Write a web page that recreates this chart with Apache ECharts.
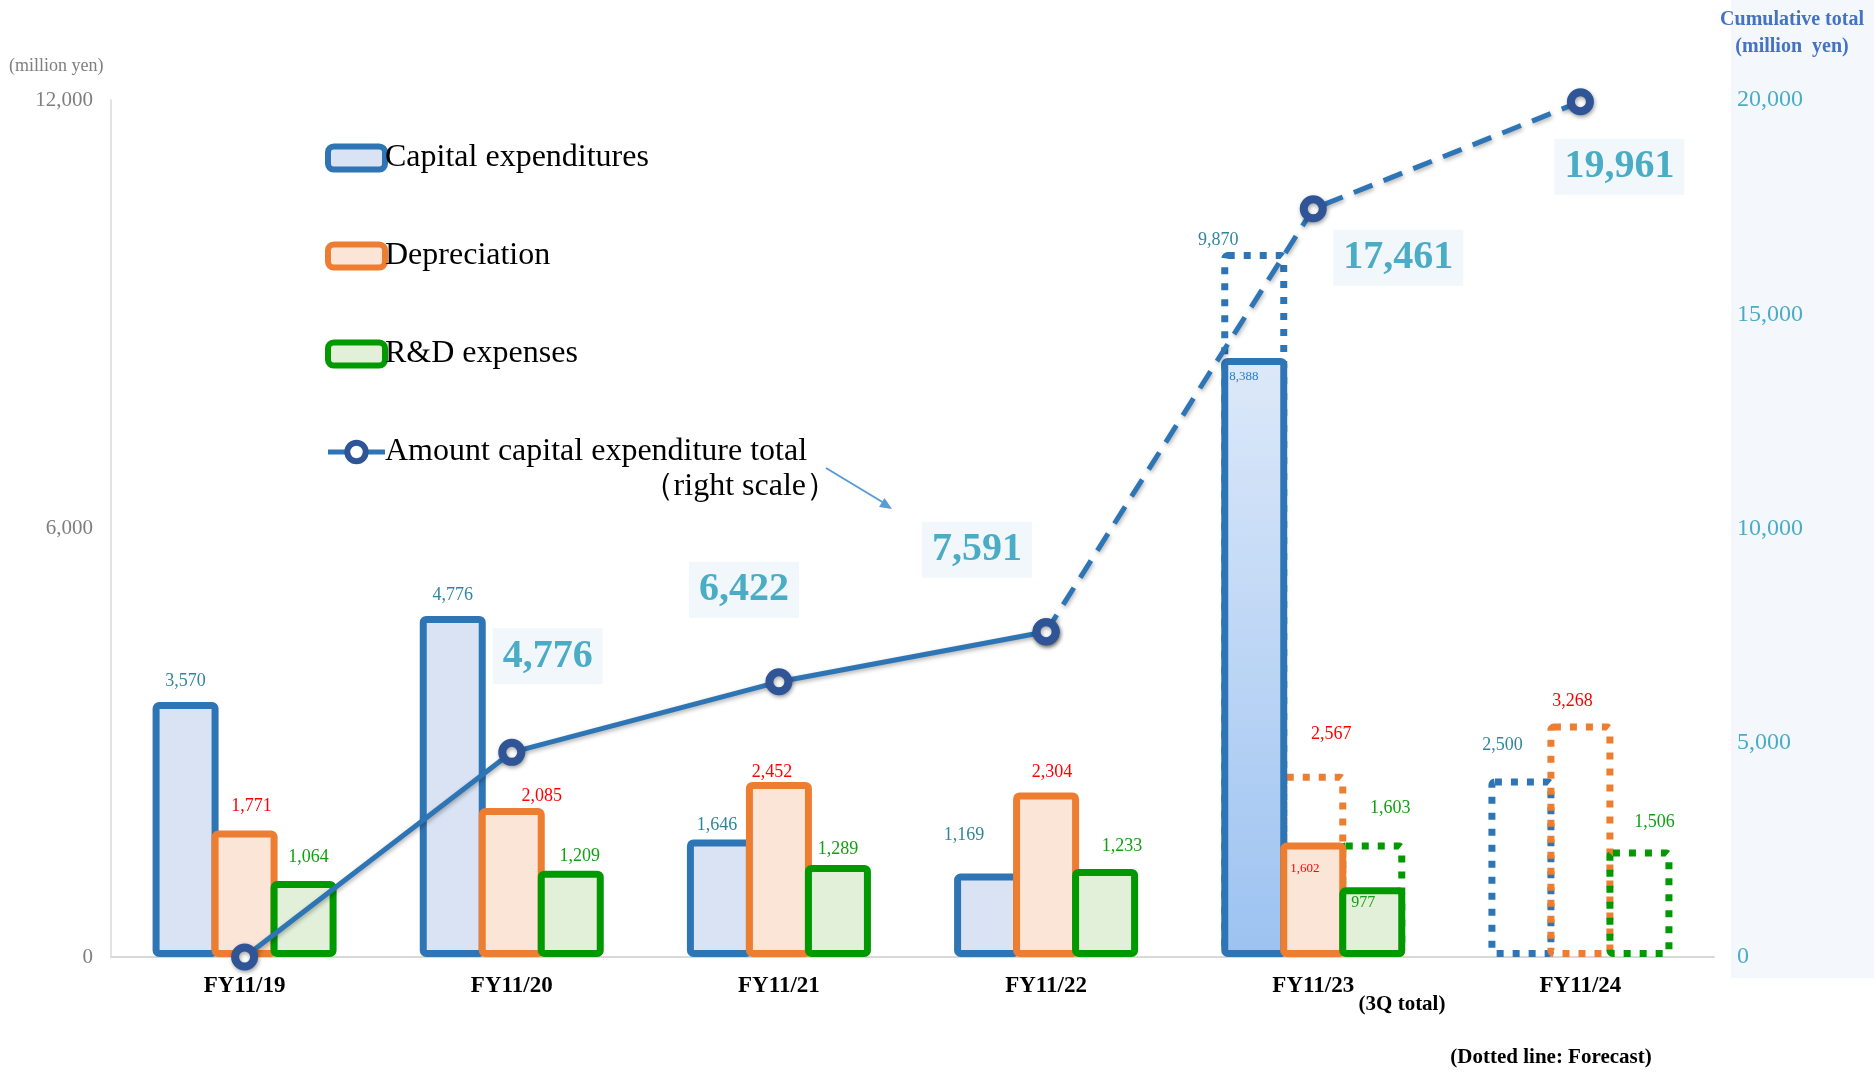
<!DOCTYPE html>
<html>
<head>
<meta charset="utf-8">
<script src="https://cdn.jsdelivr.net/npm/echarts@6/dist/echarts.min.js"></script>
<style>
  html, body { margin: 0; padding: 0; background: #ffffff; }
  #chart { width: 1874px; height: 1081px; }
</style>
</head>
<body>
<div id="chart"></div>
<script>
// ---- data (million yen) ----
const categories = ['FY11/19', 'FY11/20', 'FY11/21', 'FY11/22', 'FY11/23', 'FY11/24'];
const capex = [3570, 4776, 1646, 1169, 8388, null];
const depreciation = [1771, 2085, 2452, 2304, 1602, null];
const rnd = [1064, 1209, 1289, 1233, 977, null];
// forecast values (dotted outlines)
const capexForecast = [null, null, null, null, 9870, 2500];
const depreciationForecast = [null, null, null, null, 2567, 3268];
const rndForecast = [null, null, null, null, 1603, 1506];
// cumulative capital expenditure (right scale)
const cumulative = [0, 4776, 6422, 7591, 17461, 19961];
const leftScale = { min: 0, max: 12000, interval: 6000 };
const rightScale = { min: 0, max: 20000, interval: 5000 };

// ---- label nudges (style only) ----
const capexLabelOffset = [[0, -7], [0, -7], [-3, 0], [-23, -24], [3, 7], null];
const depLabelOffset = [[7, -10], [30, 2], [-7, 4], [6, -6], [5, 14], null];
const rndLabelOffset = [[5, -10], [9, 0], [0, -2], [17, -9], [7, 3], null];
const capexFcLabelOffset = [null, null, null, null, [-36, 2], [-19, -19]];
const depFcLabelOffset = [null, null, null, null, [18, -25], [-8, -8]];
const rndFcLabelOffset = [null, null, null, null, [18, -20], [15, -13]];
const totalLabelOffset = [null, [36, -96], [-35, -92], [-69, -82], [85, 49], [39, 65]];

const SERIF = '"Liberation Serif", "Times New Roman", serif';
const fmt = v => (v == null ? '' : Number(v).toLocaleString('en-US'));

const BLUE = '#2e75b6', ORANGE = '#ed7d31', GREEN = '#009a00';
const BLUE_FILL = '#dae3f3', ORANGE_FILL = '#fbe5d6', GREEN_FILL = '#e2f0d9';
const BLUE_TXT = '#31859c', RED_TXT = '#ff0000', GREEN_TXT = '#12a012';

// outer bar width; neighbouring bars share their 7px border
const BAR_W = 66;
const BAR_GAP = '-10.6%';

// in-bar labels for the partial-year (3Q) column
const INNER_IDX = 4;

function actualItems(values, offsets, innerColor, innerSize, extra) {
  return values.map((v, i) => {
    const item = { value: v };
    if (i === INNER_IDX) {
      item.label = { position: 'insideTopLeft', distance: 5, offset: offsets[i], fontSize: innerSize, color: innerColor };
      if (extra) item.itemStyle = extra;
    } else if (offsets[i]) {
      item.label = { offset: offsets[i] };
    }
    return item;
  });
}
function forecastItems(values, offsets) {
  return values.map((v, i) => {
    const item = { value: v };
    if (offsets[i]) item.label = { offset: offsets[i] };
    return item;
  });
}

function barSeries(name, data, fill, border, txt, axis) {
  return {
    name: name,
    type: 'bar',
    xAxisIndex: axis,
    yAxisIndex: 0,
    barWidth: BAR_W,
    barGap: BAR_GAP,
    data: data,
    itemStyle: {
      color: fill,
      borderColor: border,
      borderWidth: 7,
      borderRadius: 3,
      borderType: axis === 1 ? [7, 9] : 'solid'
    },
    label: {
      show: true,
      position: 'top',
      distance: 5,
      color: txt,
      fontFamily: SERIF,
      fontSize: 18,
      formatter: p => fmt(p.value)
    },
    emphasis: { disabled: true },
    z: axis === 1 ? 2 : 3
  };
}

const bigLabel = {
  show: true,
  position: 'inside',
  fontFamily: SERIF,
  fontWeight: 'bold',
  fontSize: 40,
  lineHeight: 44,
  color: '#4bacc6',
  backgroundColor: '#f2f7fc',
  padding: [6, 10],
  formatter: p => fmt(p.value)
};

function lineItems(values, keep) {
  return values.map((v, i) => {
    if (!keep(i)) return null;
    const item = { value: v };
    if (totalLabelOffset[i]) {
      item.label = Object.assign({}, bigLabel, { offset: totalLabelOffset[i] });
    }
    return item;
  });
}
const solidPart = i => i <= 3;
const dashedPart = i => i >= 3;

const solidData = lineItems(cumulative, solidPart);
const dashedData = lineItems(cumulative, dashedPart);
// the joint point is labelled once, on the solid segment
if (dashedData[3]) dashedData[3] = { value: cumulative[3] };

const lineBase = {
  type: 'line',
  xAxisIndex: 0,
  yAxisIndex: 1,
  symbol: 'circle',
  symbolSize: 19,
  smooth: false,
  connectNulls: false,
  itemStyle: { color: '#ffffff', borderColor: '#2f5597', borderWidth: 8,
               shadowColor: 'rgba(0,0,0,0.35)', shadowBlur: 4, shadowOffsetX: 1, shadowOffsetY: 2 },
  emphasis: { disabled: true },
  z: 6
};

const gradientCapex = {
  color: new echarts.graphic.LinearGradient(0, 0, 0, 1, [
    { offset: 0, color: '#dde9f9' },
    { offset: 1, color: '#9cc2f1' }
  ])
};

const chart = echarts.init(document.getElementById('chart'), null, { renderer: 'canvas' });

chart.setOption({
  animation: false,
  backgroundColor: '#ffffff',
  grid: { left: 111, right: 160, top: 100, bottom: 124, containLabel: false },
  legend: {
    orient: 'vertical',
    left: 320,
    top: 137,
    itemWidth: 57,
    itemHeight: 23,
    itemGap: 66,
    selectedMode: false,
    textStyle: { fontFamily: SERIF, fontSize: 32, color: '#000000', padding: [0, 0, 0, -5] },
    data: [
      { name: 'Capital expenditures', itemStyle: { color: BLUE_FILL, borderColor: BLUE, borderWidth: 6 } },
      { name: 'Depreciation', itemStyle: { color: ORANGE_FILL, borderColor: ORANGE, borderWidth: 6 } },
      { name: 'R&D expenses', itemStyle: { color: GREEN_FILL, borderColor: GREEN, borderWidth: 6 } },
      { name: 'Amount capital expenditure total', itemStyle: { color: '#ffffff', borderColor: '#2f5597', borderWidth: 6 },
        lineStyle: { color: BLUE, width: 5 } }
    ]
  },
  xAxis: [
    {
      type: 'category',
      data: categories,
      axisLine: { show: true, lineStyle: { color: '#d9d9d9', width: 2 } },
      axisTick: { show: false },
      axisLabel: { color: '#000000', fontFamily: SERIF, fontWeight: 'bold', fontSize: 23, margin: 18 },
      z: 1
    },
    {
      type: 'category',
      data: categories,
      show: false
    }
  ],
  yAxis: [
    {
      type: 'value',
      min: leftScale.min, max: leftScale.max, interval: leftScale.interval,
      axisLine: { show: true, lineStyle: { color: '#d9d9d9', width: 1.5 } },
      axisTick: { show: false },
      splitLine: { show: false },
      axisLabel: { color: '#7f7f7f', fontFamily: SERIF, fontSize: 21, margin: 18, formatter: fmt }
    },
    {
      type: 'value',
      position: 'right',
      min: rightScale.min, max: rightScale.max, interval: rightScale.interval,
      axisLine: { show: false },
      axisTick: { show: false },
      splitLine: { show: false },
      axisLabel: { color: '#4bacc6', fontFamily: SERIF, fontSize: 24, margin: 23, formatter: fmt }
    }
  ],
  series: [
    // forecasts (dotted outlines) underneath
    barSeries('Capital expenditures (forecast)', forecastItems(capexForecast, capexFcLabelOffset), 'rgba(255,255,255,0)', BLUE, BLUE_TXT, 1),
    barSeries('Depreciation (forecast)', forecastItems(depreciationForecast, depFcLabelOffset), 'rgba(255,255,255,0)', ORANGE, RED_TXT, 1),
    barSeries('R&D expenses (forecast)', forecastItems(rndForecast, rndFcLabelOffset), 'rgba(255,255,255,0)', GREEN, GREEN_TXT, 1),
    // results
    barSeries('Capital expenditures', actualItems(capex, capexLabelOffset, '#1f7fd0', 13, gradientCapex), BLUE_FILL, BLUE, BLUE_TXT, 0),
    barSeries('Depreciation', actualItems(depreciation, depLabelOffset, RED_TXT, 13), ORANGE_FILL, ORANGE, RED_TXT, 0),
    barSeries('R&D expenses', actualItems(rnd, rndLabelOffset, GREEN_TXT, 16), GREEN_FILL, GREEN, GREEN_TXT, 0),
    // cumulative total
    Object.assign({}, lineBase, {
      name: 'Amount capital expenditure total',
      data: solidData,
      lineStyle: { color: BLUE, width: 5, type: 'solid',
                   shadowColor: 'rgba(0,0,0,0.3)', shadowBlur: 4, shadowOffsetX: 1, shadowOffsetY: 2 }
    }),
    Object.assign({}, lineBase, {
      name: 'Amount capital expenditure total (forecast)',
      data: dashedData,
      lineStyle: { color: BLUE, width: 5, type: [20, 12],
                   shadowColor: 'rgba(0,0,0,0.3)', shadowBlur: 4, shadowOffsetX: 1, shadowOffsetY: 2 }
    })
  ],
  graphic: [
    // right-scale panel
    { type: 'rect', z: -10, silent: true,
      shape: { x: 1731, y: 0, width: 143, height: 978 },
      style: { fill: '#f4f8fd' } },
    { type: 'text', x: 9, y: 66, silent: true,
      style: { text: '(million yen)', font: '18px ' + SERIF, fill: '#7f7f7f',
               align: 'left', verticalAlign: 'middle', textAlign: 'left', textVerticalAlign: 'middle' } },
    { type: 'text', x: 1792, y: 6, silent: true,
      style: { text: 'Cumulative total\n(million  yen)', font: 'bold 20px ' + SERIF, fill: '#4472c4', lineHeight: 27,
               align: 'center', verticalAlign: 'top', textAlign: 'center', textVerticalAlign: 'top' } },
    { type: 'text', x: 838, y: 487, silent: true,
      style: { text: '（right scale）', font: '32px ' + SERIF, fill: '#000000',
               align: 'right', verticalAlign: 'middle', textAlign: 'right', textVerticalAlign: 'middle' } },
    // pointer toward the cumulative line
    { type: 'line', silent: true,
      shape: { x1: 826, y1: 468, x2: 884, y2: 503 },
      style: { stroke: '#5b9bd5', lineWidth: 2 } },
    { type: 'polygon', silent: true,
      shape: { points: [[892, 509], [879, 507], [884.5, 498]] },
      style: { fill: '#5b9bd5' } },
    { type: 'text', x: 1402, y: 1005, silent: true,
      style: { text: '(3Q total)', font: 'bold 21px ' + SERIF, fill: '#000000',
               align: 'center', verticalAlign: 'middle', textAlign: 'center', textVerticalAlign: 'middle' } },
    { type: 'text', x: 1551, y: 1058, silent: true,
      style: { text: '(Dotted line: Forecast)', font: 'bold 21px ' + SERIF, fill: '#000000',
               align: 'center', verticalAlign: 'middle', textAlign: 'center', textVerticalAlign: 'middle' } }
  ]
});
</script>
</body>
</html>
